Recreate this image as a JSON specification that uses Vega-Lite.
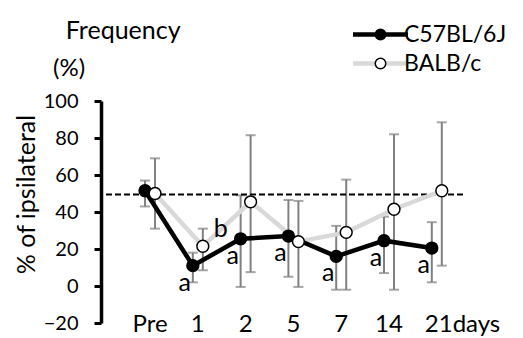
{
  "$schema": "https://vega.github.io/schema/vega-lite/v6.json",
  "autosize": {"type": "none"},
  "width": 362,
  "height": 222,
  "padding": {"left": 101, "top": 101, "right": 60, "bottom": 15},
  "background": "white",
  "config": {
    "font": "Lato",
    "view": {"stroke": null},
    "axis": {"labelFont": "Lato", "titleFont": "Lato"},
    "axisY": {
      "grid": false,
      "values": [-20, 0, 20, 40, 60, 80, 100],
      "domainColor": "black",
      "domainWidth": 3.5,
      "tickColor": "black",
      "tickWidth": 3,
      "tickSize": 7,
      "labelFontSize": 20,
      "labelColor": "black",
      "labelPadding": 16,
      "titleFontSize": 25,
      "titleFontWeight": "normal",
      "titleColor": "black",
      "titleX": -67,
      "titleY": 93,
      "titleAlign": "center",
      "titleBaseline": "alphabetic",
      "titleAngle": -90
    },
    "legend": {"labelFont": "Lato", "titleFont": "Lato"}
  },
  "title": {
    "text": "\u200b\u00a0\u00a0Frequency",
    "subtitle": "(%)",
    "anchor": "start",
    "frame": "group",
    "dx": -48,
    "offset": -58,
    "font": "Lato",
    "fontSize": 25,
    "fontWeight": "normal",
    "color": "black",
    "subtitleFont": "Lato",
    "subtitleFontSize": 24,
    "subtitleColor": "black",
    "subtitlePadding": 13
  },
  "data": {
    "values": [
      {"day": "Pre", "series": "BALB/c", "mean": 50, "lo": 31, "hi": 69, "letter": ""},
      {"day": "1", "series": "BALB/c", "mean": 21.5, "lo": 8.5, "hi": 31, "letter": "b"},
      {"day": "2", "series": "BALB/c", "mean": 45.5, "lo": 7.5, "hi": 81.5, "letter": ""},
      {"day": "5", "series": "BALB/c", "mean": 24, "lo": -0.5, "hi": 46, "letter": ""},
      {"day": "7", "series": "BALB/c", "mean": 29, "lo": -2, "hi": 57.5, "letter": ""},
      {"day": "14", "series": "BALB/c", "mean": 41.5, "lo": -2, "hi": 82, "letter": ""},
      {"day": "21", "series": "BALB/c", "mean": 51.5, "lo": 11, "hi": 88.5, "letter": ""},
      {"day": "Pre", "series": "C57BL/6J", "mean": 51.5, "lo": 43, "hi": 57, "letter": ""},
      {"day": "1", "series": "C57BL/6J", "mean": 11, "lo": 2, "hi": 18, "letter": "a"},
      {"day": "2", "series": "C57BL/6J", "mean": 25.5, "lo": -0.5, "hi": 49, "letter": "a"},
      {"day": "5", "series": "C57BL/6J", "mean": 27, "lo": 5, "hi": 46.5, "letter": "a"},
      {"day": "7", "series": "C57BL/6J", "mean": 16, "lo": -2, "hi": 32.5, "letter": "a"},
      {"day": "14", "series": "C57BL/6J", "mean": 24.5, "lo": 7, "hi": 37.5, "letter": "a"},
      {"day": "21", "series": "C57BL/6J", "mean": 20.5, "lo": 2, "hi": 34.5, "letter": "a"}
    ]
  },
  "encoding": {
    "x": {
      "field": "day",
      "type": "nominal",
      "scale": {"type": "band", "domain": ["Pre", "1", "2", "5", "7", "14", "21"], "paddingInner": 0, "paddingOuter": 0.287, "align": 0.916},
      "axis": {
        "title": null,
        "domain": false,
        "ticks": false,
        "labelFontSize": 24,
        "labelColor": "black",
        "labelPadding": 1,
        "labelBaseline": "middle",
        "labelAngle": 0,
        "labelExpr": "datum.label == '21' ? '21days' : datum.label",
        "labelAlign": {"condition": {"test": "datum.label == '21'", "value": "left"}, "value": "center"},
        "labelOffset": {"condition": {"test": "datum.label == '21'", "value": -12}, "value": 0}
      }
    },
    "xOffset": {
      "field": "series",
      "type": "nominal",
      "scale": {"type": "point", "domain": ["C57BL/6J", "BALB/c"], "range": [18.9, 28.9], "padding": 0}
    }
  },
  "layer": [
    {
      "mark": {"type": "rule", "color": "#808080", "strokeWidth": 2},
      "encoding": {
        "y": {"field": "lo", "type": "quantitative", "scale": {"domain": [-20, 100], "nice": false, "zero": false}, "axis": {"title": "% of ipsilateral"}},
        "y2": {"field": "hi"}
      }
    },
    {
      "mark": {"type": "tick", "color": "#808080", "thickness": 2, "size": 10},
      "encoding": {"y": {"field": "lo", "type": "quantitative", "axis": {"title": "% of ipsilateral"}}}
    },
    {
      "mark": {"type": "tick", "color": "#808080", "thickness": 2, "size": 10},
      "encoding": {"y": {"field": "hi", "type": "quantitative", "axis": {"title": "% of ipsilateral"}}}
    },
    {
      "data": {"values": [{"ref": 49.5}]},
      "mark": {"type": "rule", "color": "black", "strokeWidth": 2, "strokeDash": [6, 3]},
      "encoding": {"x": null, "xOffset": null, "y": {"field": "ref", "type": "quantitative", "axis": {"title": "% of ipsilateral"}}}
    },
    {
      "transform": [{"filter": "datum.series == 'BALB/c'"}],
      "mark": {"type": "line", "strokeWidth": 4.5},
      "encoding": {
        "y": {"field": "mean", "type": "quantitative", "axis": {"title": "% of ipsilateral"}},
        "stroke": {
          "field": "series",
          "type": "nominal",
          "scale": {"domain": ["C57BL/6J", "BALB/c"], "range": ["black", "#d9d9d9"]},
          "legend": {"orient": "none", "legendX": 268, "legendY": -78, "title": null, "symbolType": "M-5,0H5", "symbolSize": 121, "symbolStrokeWidth": 4.5, "labelFontSize": 23, "labelColor": "black", "labelOffset": 12, "rowPadding": 5, "padding": 0}
        }
      }
    },
    {
      "transform": [{"filter": "datum.series == 'C57BL/6J'"}],
      "mark": {"type": "line", "strokeWidth": 4.5},
      "encoding": {
        "y": {"field": "mean", "type": "quantitative", "axis": {"title": "% of ipsilateral"}},
        "stroke": {
          "field": "series",
          "type": "nominal",
          "scale": {"domain": ["C57BL/6J", "BALB/c"], "range": ["black", "#d9d9d9"]},
          "legend": {"orient": "none", "legendX": 268, "legendY": -78, "title": null, "symbolType": "M-5,0H5", "symbolSize": 121, "symbolStrokeWidth": 4.5, "labelFontSize": 23, "labelColor": "black", "labelOffset": 12, "rowPadding": 5, "padding": 0}
        }
      }
    },
    {
      "mark": {"type": "circle", "stroke": "black", "strokeWidth": 1.5, "opacity": 1, "size": 140},
      "encoding": {
        "y": {"field": "mean", "type": "quantitative", "axis": {"title": "% of ipsilateral"}},
        "fill": {
          "field": "series",
          "type": "nominal",
          "sort": "descending",
          "scale": {"range": ["black", "white"]},
          "legend": {"orient": "none", "legendX": 268, "legendY": -78, "title": null, "symbolType": "circle", "symbolSize": 110, "symbolStrokeColor": "black", "symbolStrokeWidth": 1.5, "labelFontSize": 23, "labelExpr": "'\u00a0'", "labelOffset": 2, "rowPadding": 5, "padding": 0}
        },
        "order": {"field": "series", "sort": "descending"}
      }
    },
    {
      "transform": [{"filter": "datum.letter == 'a'"}],
      "mark": {"type": "text", "fontSize": 25, "font": "Lato", "color": "black", "baseline": "alphabetic", "align": "center", "dx": -8, "dy": 25},
      "encoding": {
        "y": {"field": "mean", "type": "quantitative", "axis": {"title": "% of ipsilateral"}},
        "text": {"field": "letter"}
      }
    },
    {
      "transform": [{"filter": "datum.letter == 'b'"}],
      "mark": {"type": "text", "fontSize": 25, "font": "Lato", "color": "black", "baseline": "alphabetic", "align": "center", "dx": 18, "dy": -9},
      "encoding": {
        "y": {"field": "mean", "type": "quantitative", "axis": {"title": "% of ipsilateral"}},
        "text": {"field": "letter"}
      }
    }
  ]
}
